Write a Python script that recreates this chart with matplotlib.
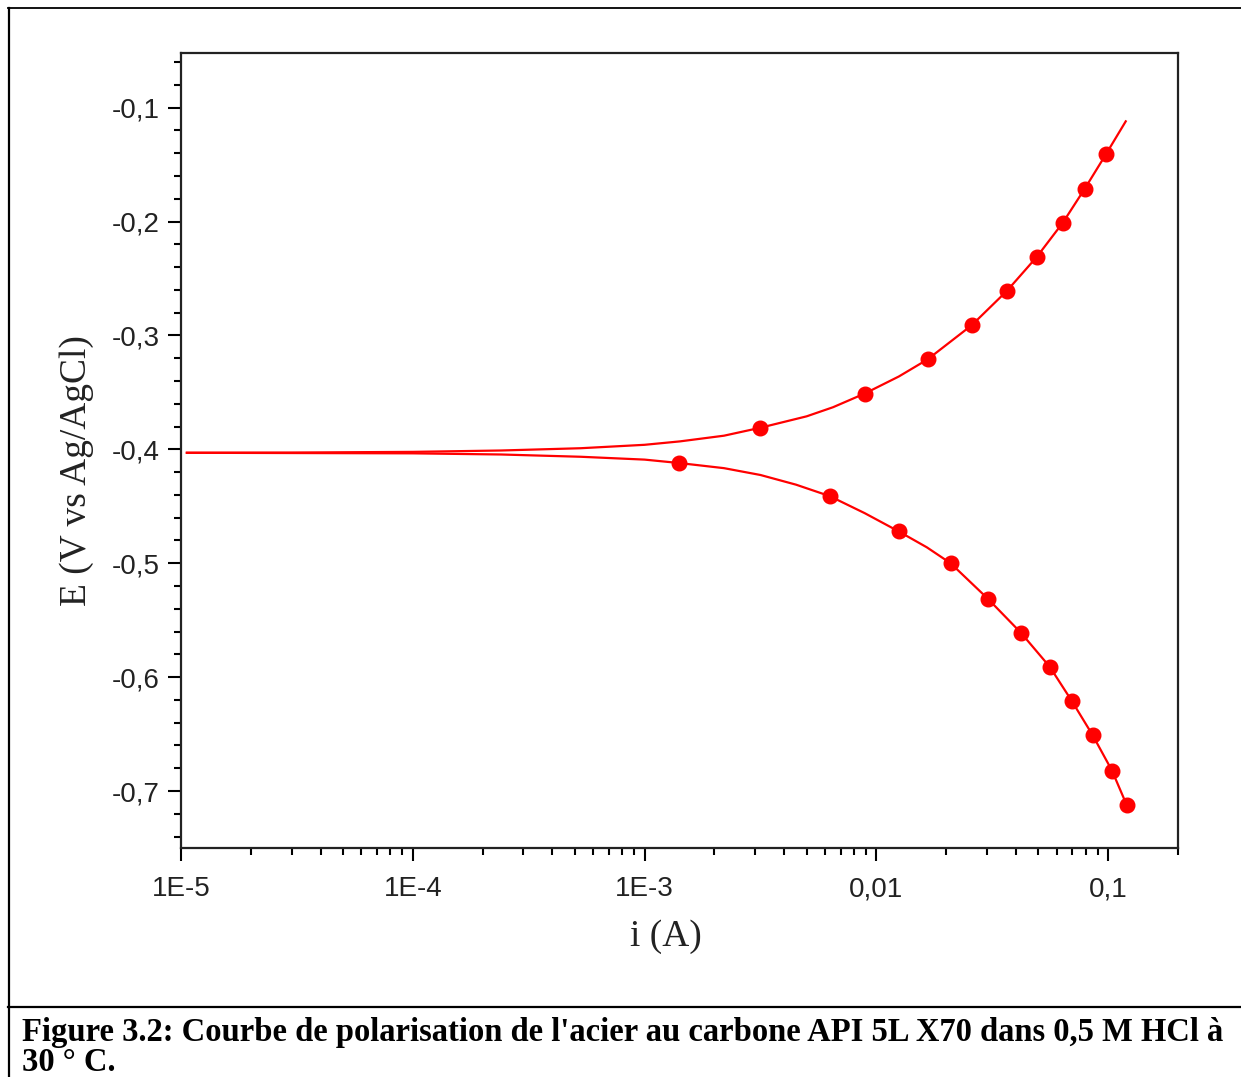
import matplotlib
matplotlib.use('Agg')
import matplotlib.pyplot as plt
from matplotlib.lines import Line2D
from matplotlib.ticker import FixedLocator, MultipleLocator, LogLocator, NullFormatter

# Anodic branch (line)
anodic_i = [1.06e-5, 3e-5, 1e-4, 2.4e-4, 5.3e-4, 1e-3, 1.42e-3, 2.2e-3, 3.16e-3,
            5e-3, 6.5e-3, 8.9e-3, 0.0125, 0.01663, 0.02577, 0.0365, 0.0492,
            0.0637, 0.0793, 0.0977, 0.119]
anodic_E = [-0.403, -0.4028, -0.4022, -0.401, -0.399, -0.396, -0.393, -0.388, -0.381,
            -0.371, -0.363, -0.351, -0.336, -0.321, -0.291, -0.261, -0.231,
            -0.201, -0.171, -0.141, -0.112]
anodic_mark_i = [3.16e-3, 8.9e-3, 0.01663, 0.02577, 0.0365, 0.0492, 0.0637, 0.0793, 0.0977]
anodic_mark_E = [-0.381, -0.351, -0.321, -0.291, -0.261, -0.231, -0.201, -0.171, -0.141]

# Cathodic branch
cathodic_i = [1.06e-5, 1e-4, 2.4e-4, 5.3e-4, 1e-3, 1.41e-3, 2.2e-3, 3.16e-3, 4.5e-3,
              6.28e-3, 8.9e-3, 0.01247, 0.0165, 0.0209, 0.0302, 0.042, 0.056,
              0.0697, 0.0857, 0.1038, 0.120]
cathodic_E = [-0.403, -0.4035, -0.4045, -0.4065, -0.409, -0.412, -0.4165, -0.4225, -0.431,
              -0.441, -0.456, -0.472, -0.486, -0.500, -0.531, -0.561, -0.591,
              -0.621, -0.651, -0.682, -0.712]
cathodic_mark_i = [1.41e-3, 6.28e-3, 0.01247, 0.0209, 0.0302, 0.042, 0.056, 0.0697,
                   0.0857, 0.1038, 0.120]
cathodic_mark_E = [-0.412, -0.441, -0.472, -0.500, -0.531, -0.561, -0.591, -0.621,
                   -0.651, -0.682, -0.712]

x_ticks = [1e-5, 1e-4, 1e-3, 1e-2, 1e-1]
x_tick_labels = ['1E-5', '1E-4', '1E-3', '0,01', '0,1']
y_ticks = [-0.7, -0.6, -0.5, -0.4, -0.3, -0.2, -0.1]
y_tick_labels = ['-0,7', '-0,6', '-0,5', '-0,4', '-0,3', '-0,2', '-0,1']

caption_lines = ["Figure 3.2: Courbe de polarisation de l'acier au carbone API 5L X70 dans 0,5 M HCl à",
                 "30 ° C."]

W, H = 1241, 1077
fig = plt.figure(figsize=(W / 100, H / 100), dpi=100)
ax = fig.add_axes([181 / W, 1 - 848 / H, 997 / W, 795 / H])

red = '#ff0000'
ax.plot(anodic_i, anodic_E, color=red, lw=1.6)
ax.plot(cathodic_i, cathodic_E, color=red, lw=1.6)
ax.plot(anodic_mark_i, anodic_mark_E, 'o', color=red, ms=10.5, mec=red)
ax.plot(cathodic_mark_i, cathodic_mark_E, 'o', color=red, ms=10.5, mec=red)

ax.set_xscale('log')
ax.set_xlim(1e-5, 0.2)
ax.set_ylim(-0.75, -0.052)

ax.xaxis.set_major_locator(FixedLocator(x_ticks))
ax.set_xticklabels(x_tick_labels)
ax.xaxis.set_minor_locator(LogLocator(base=10, subs=range(2, 10)))
ax.xaxis.set_minor_formatter(NullFormatter())
ax.set_yticks(y_ticks)
ax.set_yticklabels(y_tick_labels)
ax.yaxis.set_minor_locator(MultipleLocator(0.02))

for s in ax.spines.values():
    s.set_linewidth(1.6)
    s.set_color('#222222')
ax.tick_params(which='both', direction='out', top=False, right=False, width=1.5)
ax.tick_params(which='major', length=9.5, labelsize=20)
ax.tick_params(axis='x', which='major', pad=11)
ax.tick_params(axis='y', which='major', pad=6)
ax.tick_params(which='minor', length=5)
for lab in ax.get_xticklabels() + ax.get_yticklabels():
    lab.set_family('Liberation Sans')
    lab.set_color('#222222')

ax.set_xlabel('i (A)', family='Liberation Serif', fontsize=27, color='#222222')
ax.xaxis.set_label_coords((666 - 181) / 997, (848 - 919) / 795)
ax.set_ylabel('E (V vs Ag/AgCl)', family='Liberation Serif', fontsize=27, color='#222222')
ax.yaxis.set_label_coords((94 - 181) / 997, (848 - 471) / 795)

# page frame around the figure and caption
def hline(y, x0, x1, lw):
    fig.add_artist(Line2D([x0 / W, x1 / W], [1 - y / H, 1 - y / H], color='black', lw=lw))

hline(8, 8, 1241, 1.3)
hline(1007, 8, 1241, 1.6)
fig.add_artist(Line2D([8.5 / W, 8.5 / W], [1 - 8 / H, 0], color='black', lw=1.6))

for line, base in zip(caption_lines, [1041, 1071]):
    fig.text(22 / W, 1 - base / H, line, family='Liberation Serif', fontweight='bold',
             fontsize=23.5, ha='left', va='baseline')

fig.savefig('out.png', dpi=100)
